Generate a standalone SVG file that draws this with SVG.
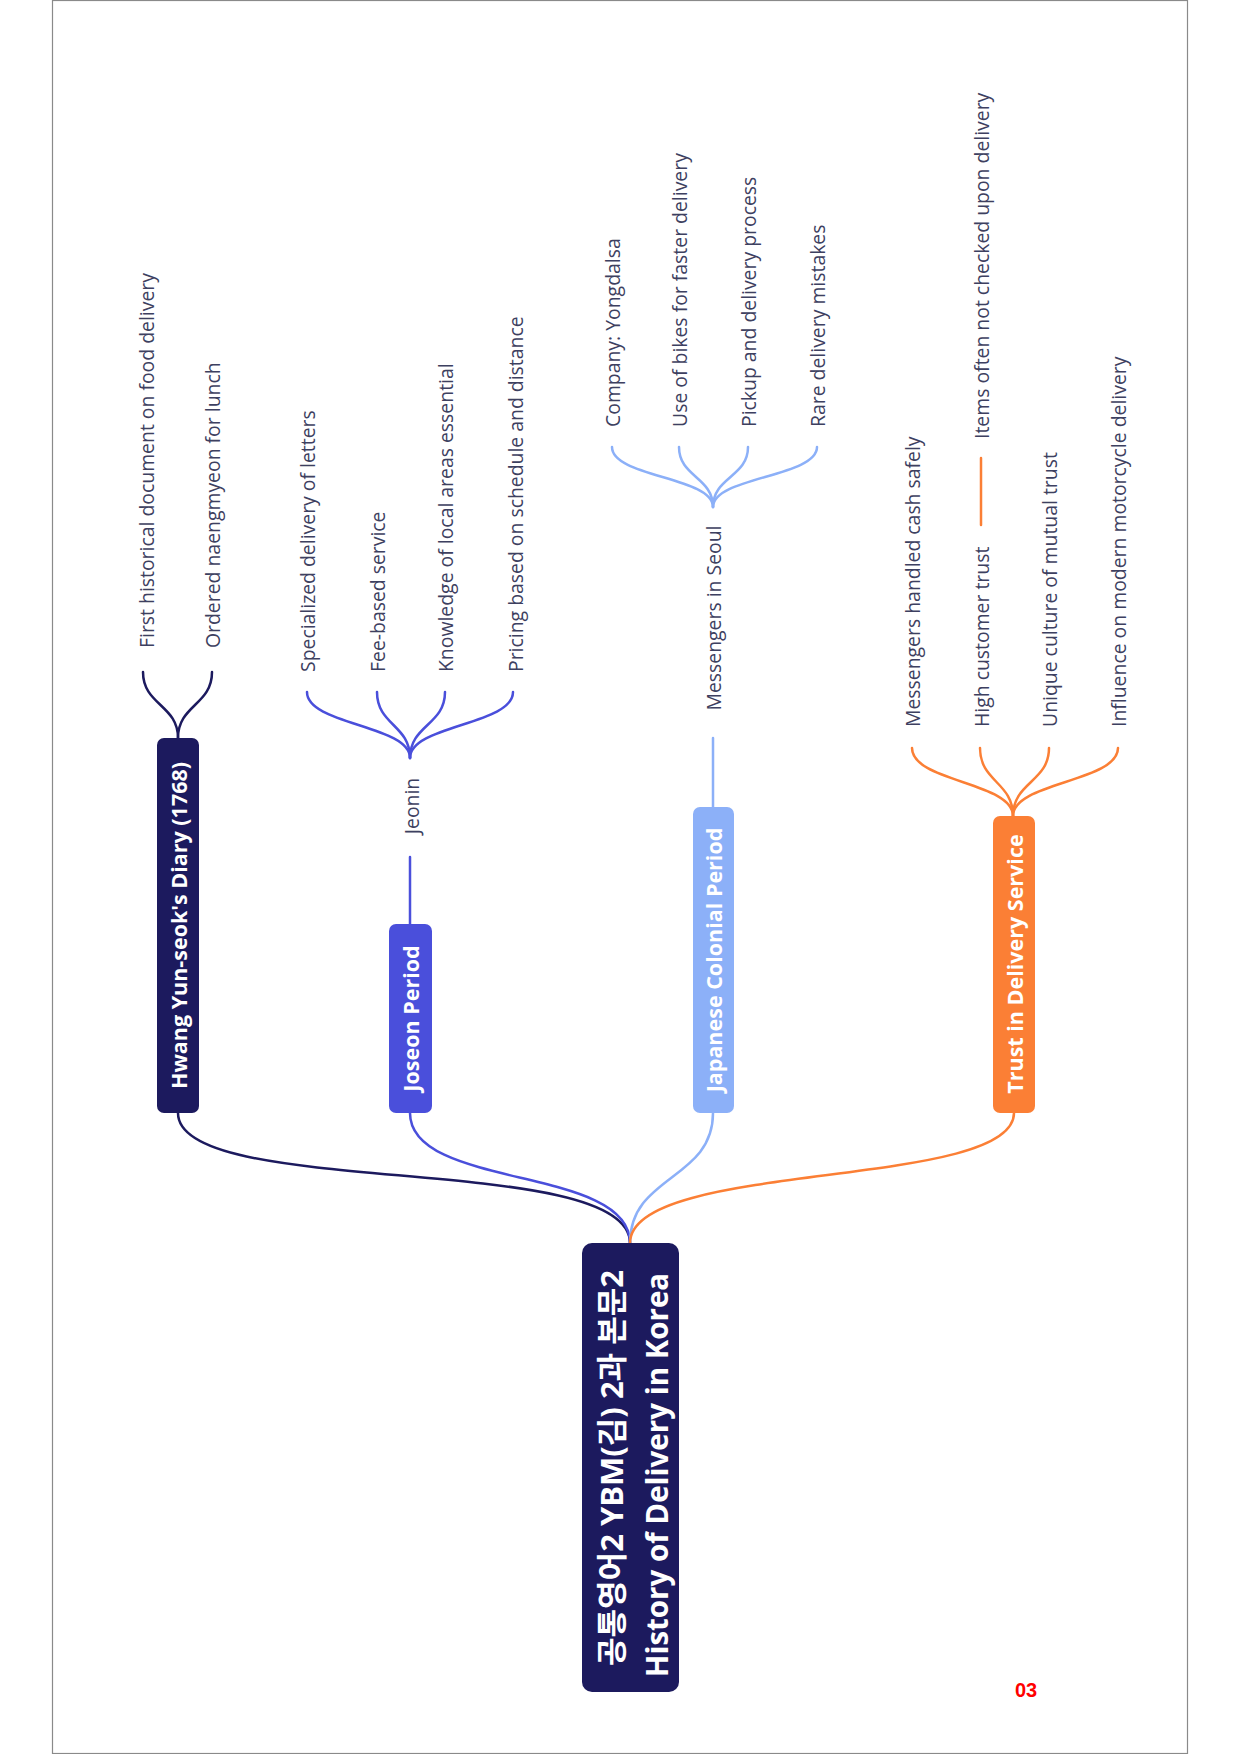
<svg xmlns="http://www.w3.org/2000/svg" width="1240" height="1754" viewBox="0 0 1240 1754">
<style>
.leaf{font-family:"Open Sans","Noto Sans",sans-serif;font-size:19.4px;fill:#3d4060;dominant-baseline:central;}
.br{font-family:"Open Sans","Noto Sans",sans-serif;font-size:21.5px;font-weight:700;fill:#ffffff;dominant-baseline:central;text-anchor:middle;}
.root{font-family:"Open Sans","Noto Sans CJK KR",sans-serif;font-weight:700;fill:#ffffff;dominant-baseline:central;text-anchor:middle;}
.c{fill:none;stroke-width:2.5;stroke-linecap:round;}
.navy{stroke:#1c1a5e;}
.blue{stroke:#4a4fdb;}
.light{stroke:#8cb0f8;}
.orange{stroke:#fb7f35;}
</style>
<rect x="0" y="0" width="1240" height="1754" fill="#ffffff"/>
<rect x="52.5" y="0.5" width="1135" height="1753" fill="#ffffff" stroke="#8a8a8a" stroke-width="1.2"/>

<g id="connectors">
  <path class="c navy" d="M178,1113 C178,1200 630,1150 630,1243"/>
  <path class="c blue" d="M410,1113 C410,1190 630,1165 630,1243"/>
  <path class="c light" d="M713,1113 C713,1180 630,1175 630,1243"/>
  <path class="c orange" d="M1014,1113 C1014,1190 630,1160 630,1243"/>

  <path class="c navy" d="M178,738 C178,705 143,705 143,672"/>
  <path class="c navy" d="M178,738 C178,705 212,705 212,672"/>

  <path class="c blue" d="M410,924 L410,857"/>
  <path class="c blue" d="M410,758 C410,725 307,725 307,692"/>
  <path class="c blue" d="M410,758 C410,725 377,725 377,692"/>
  <path class="c blue" d="M410,758 C410,725 445,725 445,692"/>
  <path class="c blue" d="M410,758 C410,725 513,725 513,692"/>

  <path class="c light" d="M713,807 L713,738"/>
  <path class="c light" d="M713,507 C713,477 612,477 612,447"/>
  <path class="c light" d="M713,507 C713,477 679,477 679,447"/>
  <path class="c light" d="M713,507 C713,477 748,477 748,447"/>
  <path class="c light" d="M713,507 C713,477 817,477 817,447"/>

  <path class="c orange" d="M1013,816 C1013,782 912,782 912,748"/>
  <path class="c orange" d="M1013,816 C1013,782 980,782 980,748"/>
  <path class="c orange" d="M1013,816 C1013,782 1049,782 1049,748"/>
  <path class="c orange" d="M1013,816 C1013,782 1118,782 1118,748"/>
  <path class="c orange" d="M981,525 L981,458"/>
</g>

<g id="root">
  <rect x="582" y="1243" width="97" height="449" rx="10" fill="#1c1a5e"/>
  <text class="root" font-size="31" transform="translate(611,1468) rotate(-90)">공통영어2 YBM(김) 2과 본문2</text>
  <text class="root" font-size="29.5" transform="translate(656,1475) rotate(-90)">History of Delivery in Korea</text>
</g>

<g id="hwang">
  <rect x="157" y="738" width="42" height="375" rx="7" fill="#1c1a5e"/>
  <text class="br" transform="translate(178,925.5) rotate(-90)">Hwang Yun-seok's Diary (1768)</text>
</g>
<g id="hwang-1"><text class="leaf" transform="translate(146,648) rotate(-90)">First historical document on food delivery</text></g>
<g id="hwang-2"><text class="leaf" transform="translate(212,648) rotate(-90)">Ordered naengmyeon for lunch</text></g>

<g id="joseon">
  <rect x="389" y="924" width="43" height="189" rx="7" fill="#4a4fdb"/>
  <text class="br" transform="translate(410.5,1018.5) rotate(-90)">Joseon Period</text>
</g>
<g id="jeonin"><text class="leaf" text-anchor="middle" transform="translate(411,806) rotate(-90)">Jeonin</text></g>
<g id="joseon-1"><text class="leaf" transform="translate(307,672) rotate(-90)">Specialized delivery of letters</text></g>
<g id="joseon-2"><text class="leaf" transform="translate(377,672) rotate(-90)">Fee-based service</text></g>
<g id="joseon-3"><text class="leaf" transform="translate(445,672) rotate(-90)">Knowledge of local areas essential</text></g>
<g id="joseon-4"><text class="leaf" transform="translate(515,672) rotate(-90)">Pricing based on schedule and distance</text></g>

<g id="japanese">
  <rect x="693" y="807" width="41" height="306" rx="7" fill="#8cb0f8"/>
  <text class="br" transform="translate(713.5,960) rotate(-90)">Japanese Colonial Period</text>
</g>
<g id="messengers"><text class="leaf" text-anchor="middle" transform="translate(713,618) rotate(-90)">Messengers in Seoul</text></g>
<g id="japanese-1"><text class="leaf" transform="translate(612,427) rotate(-90)">Company: Yongdalsa</text></g>
<g id="japanese-2"><text class="leaf" transform="translate(679,427) rotate(-90)">Use of bikes for faster delivery</text></g>
<g id="japanese-3"><text class="leaf" transform="translate(748,427) rotate(-90)">Pickup and delivery process</text></g>
<g id="japanese-4"><text class="leaf" transform="translate(817,427) rotate(-90)">Rare delivery mistakes</text></g>

<g id="trust">
  <rect x="993" y="816" width="42" height="297" rx="7" fill="#fb7f35"/>
  <text class="br" transform="translate(1014,964) rotate(-90)">Trust in Delivery Service</text>
</g>
<g id="trust-1"><text class="leaf" transform="translate(912,727) rotate(-90)">Messengers handled cash safely</text></g>
<g id="trust-2"><text class="leaf" transform="translate(981,727) rotate(-90)">High customer trust</text></g>
<g id="trust-2a"><text class="leaf" transform="translate(981,439) rotate(-90)">Items often not checked upon delivery</text></g>
<g id="trust-3"><text class="leaf" transform="translate(1049,727) rotate(-90)">Unique culture of mutual trust</text></g>
<g id="trust-4"><text class="leaf" transform="translate(1118,727) rotate(-90)">Influence on modern motorcycle delivery</text></g>

<text x="1026" y="1697" font-family="Liberation Sans, Arial, sans-serif" font-size="20" font-weight="700" fill="#ff0000" text-anchor="middle">03</text>
</svg>
